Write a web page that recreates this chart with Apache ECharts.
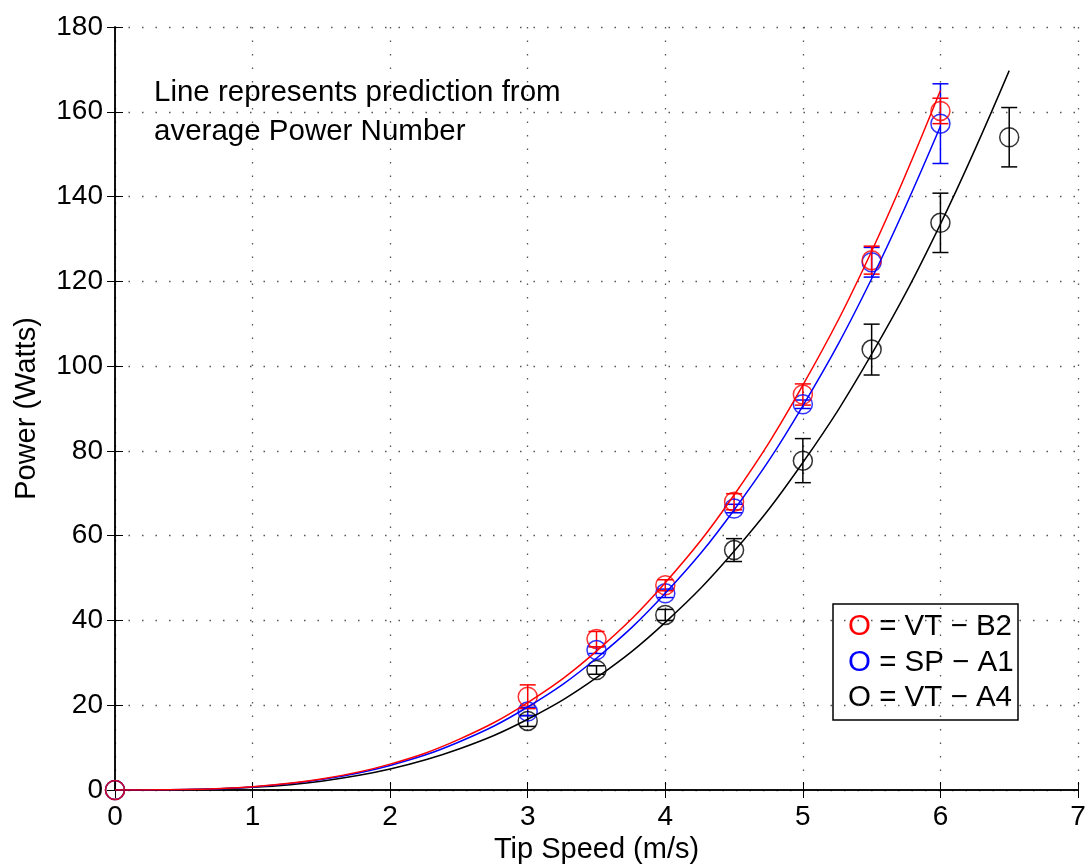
<!DOCTYPE html>
<html>
<head>
<meta charset="utf-8">
<script src="https://cdn.jsdelivr.net/npm/echarts@6/dist/echarts.min.js"></script>
<style>html,body{margin:0;padding:0;background:#fff}#c{width:1092px;height:867px}</style>
</head>
<body>
<div id="c"></div>
<script>
// Measured points
const ptX = [0, 3, 3.5, 4, 4.5, 5, 5.5, 6];
const ptXBlack = [0, 3, 3.5, 4, 4.5, 5, 5.5, 6, 6.5];
const redY = [0, 22.0, 35.6, 48.3, 68.0, 93.3, 125.0, 160.2];
const redErr = [0, 2.8, 1.8, 1.3, 1.9, 2.5, 3.3, 3.0];
const blueY = [0, 18.5, 33.0, 46.4, 66.4, 91.0, 124.5, 157.2];
const blueErr = [0, 1.0, 0.8, 1.0, 1.0, 1.0, 3.5, 9.4];
const blackY = [0, 16.3, 28.3, 41.3, 56.6, 77.7, 103.9, 133.8, 154.0];
const blackErr = [0, 1.3, 1.0, 1.3, 2.7, 5.2, 6.0, 7.0, 7.0];

// Prediction lines
const curveX = [0, 0.5, 1, 1.5, 2, 2.5, 3, 3.5, 4, 4.5, 5, 5.5, 6];
const curveXBlack = [0, 0.5, 1, 1.5, 2, 2.5, 3, 3.5, 4, 4.5, 5, 5.5, 6, 6.5];
const curveRed = [0, 0.1, 0.76, 2.58, 6.11, 11.94, 20.63, 32.76, 48.9, 69.6, 95.5, 127.1, 165.0];
const curveBlue = [0, 0.09, 0.73, 2.45, 5.8, 11.33, 19.58, 31.08, 46.4, 66.07, 90.63, 120.6, 156.6];
const curveBlack = [0, 0.08, 0.62, 2.09, 4.94, 9.66, 16.69, 26.5, 39.55, 56.3, 77.25, 102.8, 133.5, 169.7];

const xTicks = [0, 1, 2, 3, 4, 5, 6, 7];
const yTicks = [0, 20, 40, 60, 80, 100, 120, 140, 160, 180];

const legendItems = [
  {label: ' = VT \u2212 B2', color: '#ff0000'},
  {label: ' = SP \u2212 A1', color: '#0000ff'},
  {label: ' = VT \u2212 A4', color: '#000000'}
];
const noteLines = ['Line represents prediction from', 'average Power Number'];

const FONT = 'Liberation Sans, Arial, Helvetica, sans-serif';
const zip = (xs, ys) => xs.map((x, i) => [x, ys[i]]);
const zip3 = (xs, ys, es) => xs.map((x, i) => [x, ys[i], es[i]]);

function errRender(color) {
  return function (params, api) {
    const x = api.value(0), y = api.value(1), e = api.value(2);
    if (!(e > 0)) return null;
    const t = api.coord([x, y + e]);
    const b = api.coord([x, y - e]);
    const hw = 8;
    const st = {stroke: color, lineWidth: 1.5};
    return {
      type: 'group',
      children: [
        {type: 'line', shape: {x1: t[0], y1: t[1], x2: b[0], y2: b[1]}, style: st},
        {type: 'line', shape: {x1: t[0] - hw, y1: t[1], x2: t[0] + hw, y2: t[1]}, style: st},
        {type: 'line', shape: {x1: b[0] - hw, y1: b[1], x2: b[0] + hw, y2: b[1]}, style: st}
      ]
    };
  };
}

const chart = echarts.init(document.getElementById('c'), null, {renderer: 'canvas'});

const series = [];
const groups = [
  {cx: curveXBlack, cy: curveBlack, px: ptXBlack, py: blackY, pe: blackErr, color: '#000000'},
  {cx: curveX, cy: curveBlue, px: ptX, py: blueY, pe: blueErr, color: '#0000ff'},
  {cx: curveX, cy: curveRed, px: ptX, py: redY, pe: redErr, color: '#ff0000'}
];
groups.forEach(g => {
  series.push({
    type: 'line', data: zip(g.cx, g.cy), smooth: 0.4,
    showSymbol: false, lineStyle: {color: g.color, width: 1.5}, silent: true, animation: false
  });
  series.push({
    type: 'custom', data: zip3(g.px, g.py, g.pe), renderItem: errRender(g.color),
    silent: true, animation: false, clip: false
  });
  series.push({
    type: 'scatter', data: zip(g.px, g.py), symbol: 'circle', symbolSize: 19,
    itemStyle: {color: 'rgba(0,0,0,0)', borderColor: g.color, borderWidth: 1.5},
    silent: true, animation: false
  });
});

const splitLine = {show: true, lineStyle: {color: '#555', type: [1.5, 12], width: 1.3}};

chart.setOption({
  backgroundColor: '#fff',
  animation: false,
  grid: {left: 115, right: 14, top: 27, bottom: 77, containLabel: false, outerBoundsMode: 'none'},
  xAxis: [
    {
      type: 'value', min: 0, max: 7, interval: 1, position: 'bottom',
      axisLine: {lineStyle: {color: '#000', width: 1.5}},
      axisTick: {inside: true, length: 8, lineStyle: {color: '#000'}},
      axisLabel: {color: '#000', fontSize: 28, fontFamily: FONT, margin: 13,
        formatter: v => xTicks.includes(v) ? String(v) : ''},
      splitLine: splitLine,
      name: 'Tip Speed (m/s)', nameLocation: 'middle', nameGap: 44,
      nameTextStyle: {color: '#000', fontSize: 29, fontFamily: FONT}
    },
    {
      type: 'value', min: 0, max: 7, interval: 1, position: 'top',
      axisLine: {lineStyle: {color: '#000', width: 1.5}},
      axisTick: {inside: true, length: 8, lineStyle: {color: '#000'}},
      axisLabel: {show: false}, splitLine: {show: false}
    }
  ],
  yAxis: [
    {
      type: 'value', min: 0, max: 180, interval: 20, position: 'left',
      axisLine: {show: true, lineStyle: {color: '#000', width: 1.5}},
      axisTick: {show: true, inside: true, length: 8, lineStyle: {color: '#000'}},
      axisLabel: {color: '#000', fontSize: 28, fontFamily: FONT, margin: 12,
        formatter: v => yTicks.includes(v) ? String(v) : ''},
      splitLine: splitLine,
      name: 'Power (Watts)', nameLocation: 'middle', nameGap: 74, nameRotate: 90,
      nameTextStyle: {color: '#000', fontSize: 29, fontFamily: FONT}
    },
    {
      type: 'value', min: 0, max: 180, interval: 20, position: 'right',
      axisLine: {show: true, lineStyle: {color: '#000', width: 1.5}},
      axisTick: {show: true, inside: true, length: 8, lineStyle: {color: '#000'}},
      axisLabel: {show: false}, splitLine: {show: false}
    }
  ],
  graphic: noteLines.map((t, i) => ({
    type: 'text', x: 154, y: 93 + i * 39, silent: true,
    style: {text: t, fontSize: 29.5, fontFamily: FONT, fill: '#000', verticalAlign: 'middle'}
  })).concat([
    {
      type: 'group', x: 833, y: 604, silent: true,
      children: [
        {type: 'rect', shape: {x: 0, y: 0, width: 185, height: 116},
          style: {fill: '#fff', stroke: '#000', lineWidth: 1.5}},
      ].concat(legendItems.map((it, i) => ({
        type: 'text', x: 15, y: 23 + i * 35.5,
        style: {
          text: '{o|O}{t|' + it.label + '}', verticalAlign: 'middle',
          rich: {
            o: {fontSize: 29.5, fontFamily: FONT, fill: it.color},
            t: {fontSize: 29.5, fontFamily: FONT, fill: '#000'}
          }
        }
      })))
    }
  ]),
  series: series
});
</script>
</body>
</html>
